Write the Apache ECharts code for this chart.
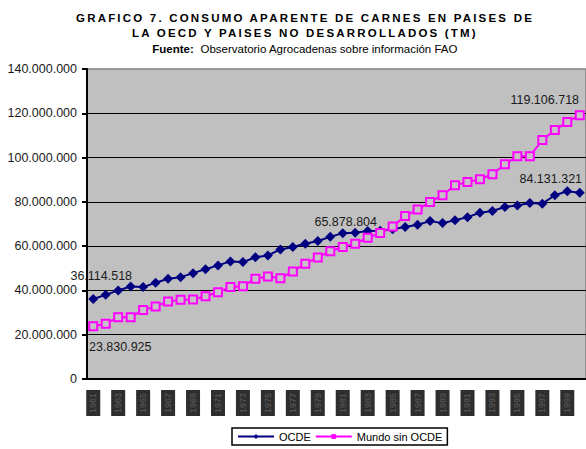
<!DOCTYPE html>
<html>
<head>
<meta charset="utf-8">
<script src="https://cdn.jsdelivr.net/npm/echarts@6/dist/echarts.min.js"></script>
<style>
  html, body { margin: 0; padding: 0; background: #fff; }
  #chart { width: 586px; height: 449px; }
  /* Excel title uses wide letter spacing; only the title font stack names Arial */
  #chart text[style*="Arial"] { letter-spacing: 2.2px; }
</style>
</head>
<body>
<div id="chart"></div>
<script>
// Consumo aparente de carnes, OCDE vs resto del mundo (TM), 1961-2000.
var years = ["1961", "1962", "1963", "1964", "1965", "1966", "1967", "1968", "1969", "1970",
             "1971", "1972", "1973", "1974", "1975", "1976", "1977", "1978", "1979", "1980",
             "1981", "1982", "1983", "1984", "1985", "1986", "1987", "1988", "1989", "1990",
             "1991", "1992", "1993", "1994", "1995", "1996", "1997", "1998", "1999", "2000"];

var ocde = [36114518, 38000000, 40000000, 41800000, 41500000, 43500000, 45300000, 46000000, 47800000, 49600000,
            51300000, 53100000, 52800000, 55000000, 55800000, 58500000, 59600000, 61100000, 62300000, 64200000,
            65878804, 66000000, 66800000, 67000000, 67600000, 68600000, 69700000, 71300000, 70400000, 71700000,
            73100000, 75100000, 75900000, 77700000, 78400000, 79500000, 79200000, 83000000, 84800000, 84131321];

var mundoSinOcde = [23830925, 24900000, 27900000, 27900000, 31200000, 32700000, 35000000, 35800000, 35900000, 37400000,
                    39200000, 41500000, 41900000, 45300000, 46300000, 45500000, 48600000, 52100000, 54900000, 57700000,
                    59600000, 61100000, 63800000, 65900000, 68900000, 73600000, 76500000, 79900000, 83000000, 87500000,
                    89000000, 90200000, 92500000, 97000000, 100600000, 100600000, 107900000, 112400000, 116100000, 119106718];

var seriesNames = ["OCDE", "Mundo sin OCDE"];

(function () {
  var FONT = "'Liberation Sans'";
  var TXT = "#1a1a1a";

  function dots(v) {
    return String(v).replace(/\B(?=(\d{3})+(?!\d))/g, ".");
  }

  // which points carry a value label, and where it sits relative to the marker
  var ocdeLabels = {
    0: { position: "top", offset: [8, -7] },
    20: { position: "top", offset: [3, 5] },
    39: { position: "top", offset: [-29, 3] }
  };
  var mundoLabels = {
    0: { position: "bottom", offset: [27, 4] },
    39: { position: "top", offset: [-35, 1] }
  };

  function withLabels(values, labels) {
    return values.map(function (v, i) {
      if (!labels[i]) return v;
      return {
        value: v,
        label: {
          show: true, position: labels[i].position, offset: labels[i].offset,
          formatter: function (p) { return dots(p.value); },
          fontFamily: FONT, fontSize: 12.5, color: TXT
        }
      };
    });
  }

  var chart = echarts.init(document.getElementById("chart"), null, { renderer: "svg" });
  chart.setOption({
    animation: false,
    backgroundColor: "#fff",
    title: {
      text: "GRAFICO 7. CONSUMO APARENTE DE CARNES EN PAISES DE\nLA OECD Y PAISES NO DESARROLLADOS (TM)",
      subtext: "{b|Fuente:}  Observatorio Agrocadenas sobre información FAO",
      left: 305, top: 10, textAlign: "center", padding: 0, itemGap: 1,
      textStyle: {
        fontFamily: "'Liberation Sans', Arial", fontWeight: "bold",
        fontSize: 11.5, lineHeight: 15.5, color: "#000"
      },
      subtextStyle: {
        fontFamily: FONT, fontSize: 11.5, lineHeight: 13, color: "#000",
        rich: { b: { fontFamily: FONT, fontWeight: "bold", fontSize: 11.5, color: "#000" } }
      }
    },
    legend: {
      data: [
        { name: seriesNames[0] },
        { name: seriesNames[1], itemStyle: { color: "#FF00FF", borderWidth: 0 } }
      ],
      left: 232, top: 428, padding: [3, 5],
      borderColor: "#000", borderWidth: 1.5,
      itemWidth: 36, itemHeight: 6, itemGap: 4,
      textStyle: { fontFamily: FONT, fontSize: 11, color: "#000" }
    },
    grid: {
      left: 87, right: -3, top: 69, bottom: 70,
      show: true, backgroundColor: "#C0C0C0", borderColor: "#808080", borderWidth: 1.5
    },
    xAxis: {
      type: "category", data: years, boundaryGap: true,
      axisLine: { lineStyle: { color: "#000", width: 2 } },
      axisTick: { interval: 0, length: 4, lineStyle: { color: "#000", width: 2 } },
      axisLabel: {
        interval: 1, rotate: 90, margin: 11,
        fontFamily: FONT, fontSize: 9, lineHeight: 10, color: "#5e5e5e",
        backgroundColor: "#2e2e2e", padding: [2, 3]
      }
    },
    yAxis: {
      type: "value", min: 0, max: 140000000, interval: 20000000,
      axisLine: { show: true, lineStyle: { color: "#000", width: 2 } },
      axisTick: { show: true, length: 5, lineStyle: { color: "#000", width: 2 } },
      axisLabel: {
        margin: 10, fontFamily: FONT, fontSize: 12.5, color: TXT,
        formatter: function (v) { return dots(v); }
      },
      splitLine: { show: true, showMinLine: false, showMaxLine: false, lineStyle: { color: "#000", width: 1 } }
    },
    series: [
      {
        name: seriesNames[0], type: "line",
        data: withLabels(ocde, ocdeLabels),
        symbol: "diamond", symbolSize: [10, 10], showAllSymbol: true,
        itemStyle: { color: "#000080" },
        lineStyle: { color: "#000080", width: 2 }
      },
      {
        name: seriesNames[1], type: "line",
        data: withLabels(mundoSinOcde, mundoLabels),
        symbol: "rect", symbolSize: 8, showAllSymbol: true,
        itemStyle: { color: "#C8C0C8", borderColor: "#FF00FF", borderWidth: 2 },
        lineStyle: { color: "#FF00FF", width: 2 }
      }
    ]
  });
  window.addEventListener("resize", function () { chart.resize(); });
})();
</script>
</body>
</html>
